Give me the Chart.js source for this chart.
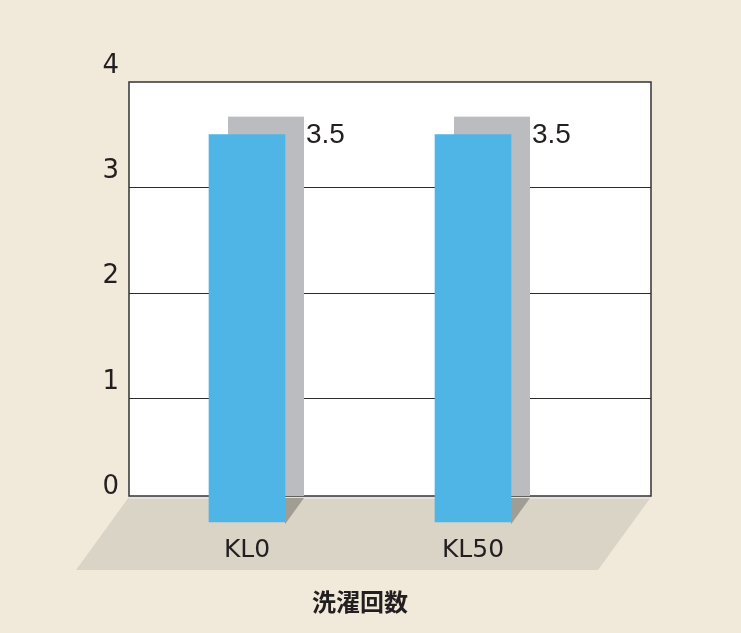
<!DOCTYPE html>
<html>
<head>
<meta charset="utf-8">
<script src="https://cdn.jsdelivr.net/npm/chart.js@4.4.1/dist/chart.umd.min.js"></script>
<style>
  html, body { margin: 0; padding: 0; background: #f1eada; }
  canvas { display: block; }
</style>
</head>
<body>
<canvas id="washChart" width="741" height="633"></canvas>
<script>
// data
const categories = ['KL0', 'KL50'];
const values = [3.5, 3.5];
const yTicks = [0, 1, 2, 3, 4];
const xTitle = '洗濯回数';

const textColor = '#231f20';
const depthX = 19;   // offset of the back face (3D look)
const depthY = 18;

// frame + floor + grey back faces, drawn around the real bars
const fakeThreeD = {
    id: 'fakeThreeD',
    beforeDraw(chart) {
        const { ctx, chartArea } = chart;
        const left = chartArea.left - 5;
        const right = chartArea.right + 65;
        const top = chartArea.top;
        const bottom = chartArea.bottom - 7;

        ctx.save();
        ctx.fillStyle = '#f1eada';
        ctx.fillRect(0, 0, chart.width, chart.height);

        // floor
        ctx.fillStyle = '#dad4c6';
        ctx.beginPath();
        ctx.moveTo(left, bottom + 1);
        ctx.lineTo(right, bottom + 1);
        ctx.lineTo(right - 53, bottom + 74);
        ctx.lineTo(left - 53, bottom + 74);
        ctx.closePath();
        ctx.fill();
        ctx.strokeStyle = '#e6e3de';
        ctx.lineWidth = 2;
        ctx.beginPath();
        ctx.moveTo(left, bottom + 2);
        ctx.lineTo(right - 1, bottom + 2);
        ctx.stroke();

        // plot panel
        ctx.fillStyle = '#ffffff';
        ctx.fillRect(left, top, right - left, bottom - top);

        // grid lines from the y scale
        const y = chart.scales.y;
        ctx.strokeStyle = '#2b2b2b';
        ctx.lineWidth = 1;
        y.ticks.forEach(t => {
            if (t.value === y.min || t.value === y.max) return;
            const py = Math.round(y.getPixelForValue(t.value)) + 0.5;
            ctx.beginPath();
            ctx.moveTo(left, py);
            ctx.lineTo(right, py);
            ctx.stroke();
        });

        ctx.lineWidth = 1.5;
        ctx.strokeStyle = '#333333';
        ctx.strokeRect(left, top, right - left, bottom - top);
        ctx.restore();
    },
    beforeDatasetsDraw(chart) {
        const { ctx, chartArea } = chart;
        const floorY = chartArea.bottom - 7;
        const meta = chart.getDatasetMeta(0);
        ctx.save();
        meta.data.forEach(bar => {
            const half = bar.width / 2;
            // back face
            ctx.fillStyle = '#bbbcbf';
            ctx.fillRect(bar.x - half + depthX, bar.y - depthY, bar.width, floorY - bar.y + depthY);
            // shadow wedge on the floor
            ctx.fillStyle = '#a09d94';
            ctx.beginPath();
            ctx.moveTo(bar.x + half, floorY + 2);
            ctx.lineTo(bar.x + half + depthX, floorY + 2);
            ctx.lineTo(bar.x + half, floorY + 2 + depthX * 1.38);
            ctx.closePath();
            ctx.fill();
        });
        ctx.restore();
    },
    afterDatasetsDraw(chart) {
        const { ctx } = chart;
        const meta = chart.getDatasetMeta(0);
        ctx.save();
        ctx.fillStyle = textColor;
        ctx.font = '28px "Liberation Sans", Arial, sans-serif';
        ctx.textAlign = 'left';
        ctx.textBaseline = 'middle';
        meta.data.forEach((bar, i) => {
            ctx.fillText(String(values[i]), bar.x + bar.width / 2 + depthX + 2, bar.y + 1);
        });
        ctx.restore();
    }
};

new Chart(document.getElementById('washChart'), {
    type: 'bar',
    data: {
        labels: categories,
        datasets: [{
            data: values,
            backgroundColor: '#4fb5e6',
            borderWidth: 0,
            barThickness: 76,
            base: -0.18,
            clip: false
        }]
    },
    options: {
        responsive: false,
        animation: false,
        layout: { padding: { top: 82, right: 155, bottom: 0, left: 0 } },
        plugins: {
            legend: { display: false },
            tooltip: { enabled: false }
        },
        scales: {
            x: {
                grid: { display: false, drawTicks: false },
                border: { display: false },
                ticks: {
                    color: textColor,
                    padding: 32,
                    font: { family: '"DejaVu Sans", sans-serif', size: 25 }
                },
                title: {
                    display: true,
                    text: xTitle,
                    color: textColor,
                    padding: { top: 0, bottom: 17 },
                    font: { family: '"Noto Sans CJK JP", sans-serif', size: 24, weight: 'bold' }
                },
                afterFit(scale) { scale.height = 130; }
            },
            y: {
                min: yTicks[0],
                max: yTicks[yTicks.length - 1],
                grid: { display: false, drawTicks: false },
                border: { display: false },
                ticks: {
                    stepSize: 1,
                    color: textColor,
                    padding: 15,
                    labelOffset: -16,
                    font: { family: '"DejaVu Sans", sans-serif', size: 26 }
                },
                afterFit(scale) { scale.width = 134; }
            }
        }
    },
    plugins: [fakeThreeD]
});
</script>
</body>
</html>
